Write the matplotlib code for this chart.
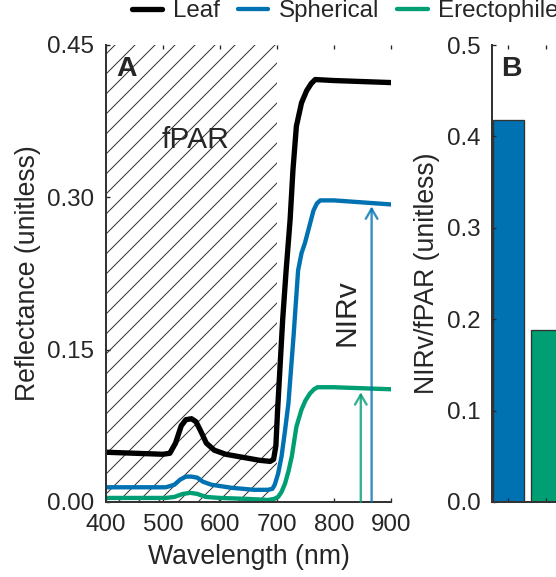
import matplotlib
matplotlib.use("Agg")
from matplotlib import pyplot as plt

plt.rcParams['font.family'] = ['Liberation Sans', 'DejaVu Sans']
plt.rcParams['hatch.linewidth'] = 0.6
plt.rcParams['text.color'] = '#262626'
plt.rcParams['axes.labelcolor'] = '#262626'
plt.rcParams['xtick.color'] = '#262626'
plt.rcParams['ytick.color'] = '#262626'

BLUE = '#0072B2'
GREEN = '#009E73'

# reflectance spectra
leafWl = [400, 450, 500, 512, 522, 532, 540, 550, 558, 566, 576, 590, 610, 640,
          670, 688, 694, 698, 701, 705, 710, 716, 723, 728, 734, 743, 752,
          760, 767, 800, 850, 900]
leafRefl = [0.049, 0.048, 0.047, 0.048, 0.058, 0.075, 0.081, 0.082, 0.079,
            0.070, 0.058, 0.051, 0.047, 0.044, 0.041, 0.040, 0.042, 0.055,
            0.090, 0.130, 0.180, 0.228, 0.278, 0.327, 0.370, 0.393, 0.405,
            0.412, 0.416, 0.415, 0.414, 0.413]

spherWl = [400, 450, 505, 520, 530, 540, 550, 560, 570, 585, 620, 660, 684,
           692, 696, 702, 708, 714, 720, 729, 737, 743, 749, 757, 764, 770,
           776, 800, 850, 900]
spherRefl = [0.0145, 0.0145, 0.0145, 0.017, 0.022, 0.025, 0.025, 0.024, 0.020,
             0.017, 0.014, 0.012, 0.012, 0.013, 0.017, 0.028, 0.045, 0.070,
             0.097, 0.163, 0.228, 0.245, 0.255, 0.272, 0.287, 0.294, 0.297,
             0.297, 0.295, 0.293]

erectWl = [400, 450, 505, 520, 535, 548, 560, 575, 600, 650, 684, 695, 702,
           708, 714, 720, 726, 734, 743, 750, 758, 765, 771, 800, 850, 900]
erectRefl = [0.004, 0.004, 0.004, 0.005, 0.008, 0.009, 0.008, 0.005, 0.004,
             0.003, 0.002, 0.003, 0.005, 0.010, 0.018, 0.030, 0.045, 0.074,
             0.091, 0.100, 0.107, 0.111, 0.113, 0.113, 0.112, 0.111]

# NIRv arrows
arrowWl = [847, 866]
arrowTop = [0.108, 0.291]
arrowColors = [GREEN, BLUE]

# NIRv/fPAR ratio per canopy
canopies = ['Spherical', 'Erectophile']
ratios = [0.418, 0.188]
barColors = [BLUE, GREEN]

fig = plt.figure(figsize=(556 / 120, 577 / 120), dpi=120)
axA = fig.add_axes([106 / 556, 1 - 502 / 577, 285 / 556, 457 / 577])
axB = fig.add_axes([492 / 556, 1 - 502 / 577, 76 / 556, 457 / 577])

for ax in (axA, axB):
    for side in ('top', 'right'):
        ax.spines[side].set_visible(False)
    for side in ('left', 'bottom'):
        ax.spines[side].set_linewidth(1.2)
        ax.spines[side].set_color('#333333')
    ax.tick_params(direction='in', length=2.5, width=0.8, top=True,
                   labelsize=14.5, pad=7)

# panel A
axA.axvspan(400, 700, facecolor='none', edgecolor='#333333', hatch='//',
            lw=0, zorder=0)
axA.plot(leafWl, leafRefl, color='black', lw=3.2, label='Leaf',
         solid_joinstyle='round', solid_capstyle='round')
axA.plot(spherWl, spherRefl, color=BLUE, lw=2.6, label='Spherical',
         solid_joinstyle='round', solid_capstyle='round')
axA.plot(erectWl, erectRefl, color=GREEN, lw=2.6, label='Erectophile',
         solid_joinstyle='round', solid_capstyle='round')

for wl, top, c in zip(arrowWl, arrowTop, arrowColors):
    axA.annotate('', xy=(wl, top), xytext=(wl, 0),
                 arrowprops=dict(arrowstyle='->,head_length=0.6,head_width=0.35',
                                 color=c, lw=1.4, alpha=0.8,
                                 shrinkA=0, shrinkB=0))

axA.text(558, 0.356, 'fPAR', fontsize=18, ha='center', va='center')
axA.text(822, 0.186, 'NIRv', fontsize=18, ha='center', va='center',
         rotation=90)
axA.text(0.035, 0.975, 'A', transform=axA.transAxes, fontsize=17,
         fontweight='bold', ha='left', va='top')

axA.set_xlim(400, 900)
axA.set_ylim(0, 0.45)
axA.set_xticks([400, 500, 600, 700, 800, 900])
axA.set_yticks([0, 0.15, 0.30, 0.45])
axA.set_yticklabels(['0.00', '0.15', '0.30', '0.45'])
axA.set_xlabel('Wavelength (nm)', fontsize=16, labelpad=5)
axA.set_ylabel('Reflectance (unitless)', fontsize=16, labelpad=4)

# panel B
axB.bar(range(len(canopies)), ratios, width=0.82, color=barColors,
        edgecolor='#333333', linewidth=0.8)
axB.set_xlim(-0.43, 1.57)
axB.set_ylim(0, 0.5)
axB.set_xticks(range(len(canopies)))
axB.set_xticklabels([])
axB.set_yticks([0, 0.1, 0.2, 0.3, 0.4, 0.5])
axB.set_yticklabels(['0.0', '0.1', '0.2', '0.3', '0.4', '0.5'])
axB.set_ylabel('NIRv/fPAR (unitless)', fontsize=16, labelpad=4)
axB.text(0.12, 0.975, 'B', transform=axB.transAxes, fontsize=17,
         fontweight='bold', ha='left', va='top')

handles, labels = axA.get_legend_handles_labels()
fig.legend(handles, labels, loc='center left', ncol=3, frameon=False,
           bbox_to_anchor=(122 / 556, 1 - 11 / 577), fontsize=14.5,
           handlelength=1.25, handletextpad=0.45, columnspacing=0.75,
           borderaxespad=0)

fig.savefig('out.png', dpi=120)
